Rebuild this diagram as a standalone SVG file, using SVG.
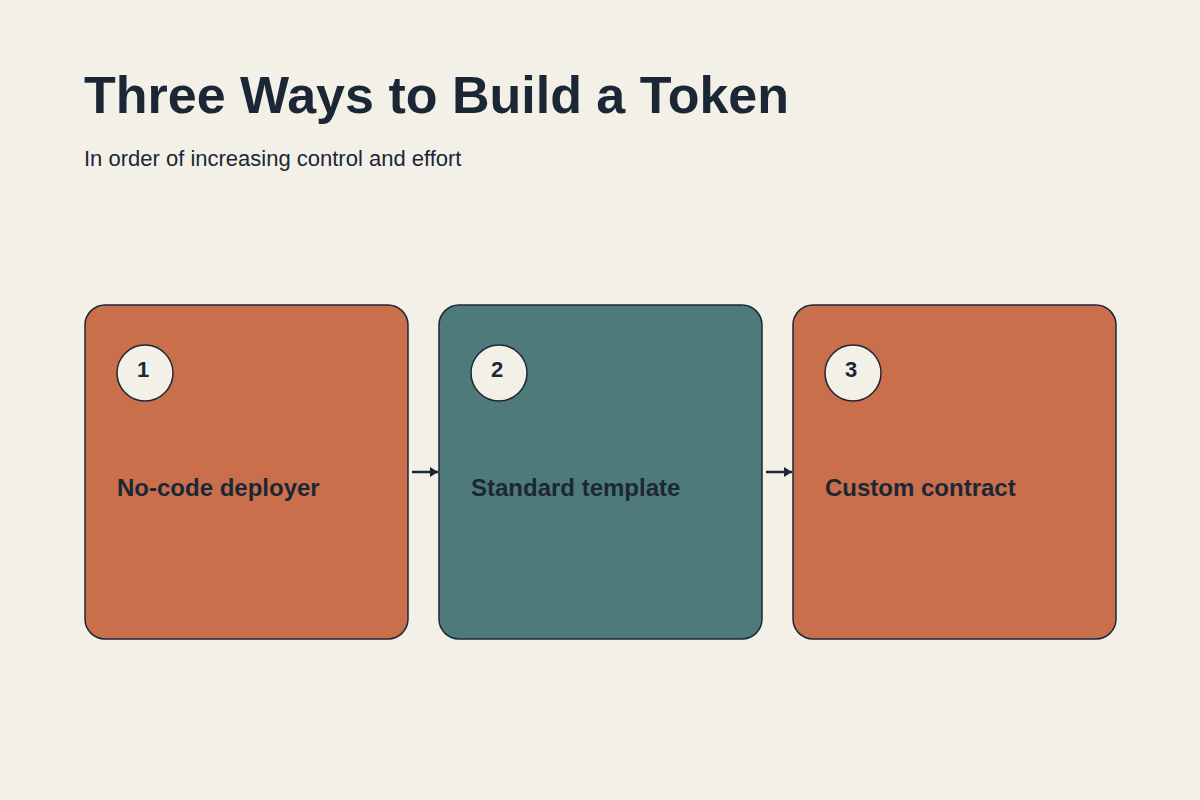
<svg xmlns="http://www.w3.org/2000/svg" width="1200" height="800" viewBox="0 0 1200 800">
<style>
.card{stroke:#1c2735;stroke-width:1.5}
.badge{fill:#f3f0e8;stroke:#1c2735;stroke-width:1.5}
.num{font-family:"Liberation Sans",Arial,sans-serif;font-weight:bold;font-size:22px;fill:#1c2735;text-anchor:middle}
.lbl{font-family:"Liberation Sans",Arial,sans-serif;font-weight:bold;font-size:24px;fill:#1c2735}
</style>
<defs><marker id="ah" markerWidth="8" markerHeight="10" refX="8" refY="5" orient="auto" markerUnits="userSpaceOnUse"><path d="M0,0 L8,5 L0,10 Z" fill="#1c2735"/></marker></defs>
<rect width="1200" height="800" fill="#f3f0e8"/>
<text x="84" y="113" font-family="Liberation Sans,Arial,sans-serif" font-weight="bold" font-size="52" fill="#1c2735">Three Ways to Build a Token</text>
<text x="84" y="166" font-family="Liberation Sans,Arial,sans-serif" font-size="22" fill="#1c2735">In order of increasing control and effort</text>
<g id="connectors" stroke="#1c2735" stroke-width="2.5">
<line x1="412" y1="472" x2="438" y2="472" marker-end="url(#ah)"/>
<line x1="766" y1="472" x2="792" y2="472" marker-end="url(#ah)"/>
</g>
<g id="node1"><rect class="card" x="85" y="305" width="323" height="334" rx="20" fill="#c96f4c"/><circle class="badge" cx="145" cy="373" r="28"/><text class="num" x="143" y="377">1</text><text class="lbl" x="117" y="496">No-code deployer</text></g>
<g id="node2"><rect class="card" x="439" y="305" width="323" height="334" rx="20" fill="#4e7b79"/><circle class="badge" cx="499" cy="373" r="28"/><text class="num" x="497" y="377">2</text><text class="lbl" x="471" y="496">Standard template</text></g>
<g id="node3"><rect class="card" x="793" y="305" width="323" height="334" rx="20" fill="#c96f4c"/><circle class="badge" cx="853" cy="373" r="28"/><text class="num" x="851" y="377">3</text><text class="lbl" x="825" y="496">Custom contract</text></g>
</svg>
